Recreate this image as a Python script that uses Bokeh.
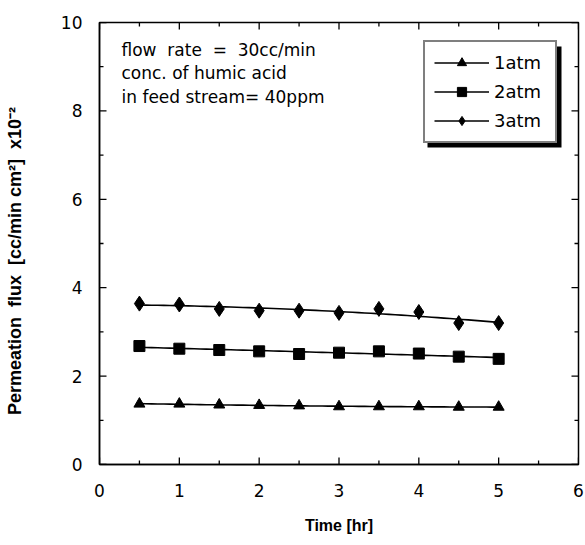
import numpy as np
from bokeh.plotting import figure
from bokeh.models import (SingleIntervalTicker, Range1d, Legend, LegendItem,
                          Label, BoxAnnotation)
from bokeh.embed import file_html
from bokeh.resources import INLINE

# ---- data ----
time_hr = [0.5, 1.0, 1.5, 2.0, 2.5, 3.0, 3.5, 4.0, 4.5, 5.0]
flux_1atm = [1.37, 1.37, 1.35, 1.34, 1.33, 1.31, 1.31, 1.31, 1.30, 1.30]
flux_2atm = [2.68, 2.62, 2.59, 2.56, 2.50, 2.53, 2.56, 2.51, 2.44, 2.39]
flux_3atm = [3.64, 3.62, 3.52, 3.48, 3.48, 3.43, 3.52, 3.45, 3.20, 3.20]
series_names = ["1atm", "2atm", "3atm"]
x_ticks = [0, 1, 2, 3, 4, 5, 6]
y_ticks = [0, 2, 4, 6, 8, 10]
NB = "\u00a0"
note_lines = ["flow" + NB * 2 + "rate" + NB * 2 + "=" + NB * 2 + "30cc/min",
              "conc. of humic acid",
              "in feed stream= 40ppm"]
x_title = "Time [hr]"
y_title = ("Permeation" + NB * 2 + "flux" + NB * 2 + "[cc/min" + NB + "cm²]" + NB * 2
           + "x10⁻²" + NB * 7)

FONT = "DejaVu Sans"
BFONT = "Liberation Sans"

X0, X1 = x_ticks[0], x_ticks[-1]
Y0, Y1 = y_ticks[0], y_ticks[-1]
FRAME_W, FRAME_H = 479, 442
px_x = FRAME_W / (X1 - X0)   # pixels per x unit
px_y = FRAME_H / (Y1 - Y0)   # pixels per y unit

p = figure(width=585, height=545, output_backend="svg", toolbar_location=None,
           x_range=Range1d(X0, X1), y_range=Range1d(Y0, Y1),
           min_border_left=99, min_border_right=7, min_border_top=22, min_border_bottom=81,
           x_axis_label=x_title, y_axis_label=y_title)
p.outline_line_color = "black"
p.outline_line_width = 1.5
p.grid.visible = False
p.background_fill_color = "white"
p.border_fill_color = "white"

for ax, tk in ((p.xaxis[0], SingleIntervalTicker(interval=1)),
               (p.yaxis[0], SingleIntervalTicker(interval=2))):
    ax.ticker = tk
    ax.axis_line_color = "black"
    ax.axis_line_width = 1.5
    ax.major_tick_in = 0
    ax.major_tick_out = 0
    ax.minor_tick_in = 0
    ax.minor_tick_out = 0
    ax.major_label_text_font = FONT
    ax.major_label_text_font_size = "17px"
    ax.major_label_text_color = "black"
    ax.axis_label_text_font = BFONT
    ax.axis_label_text_font_style = "bold"
    ax.axis_label_text_color = "black"
p.xaxis[0].major_label_standoff = 19
p.yaxis[0].major_label_standoff = 17
p.xaxis[0].axis_label_text_font_size = "16px"
p.xaxis[0].axis_label_standoff = 17
p.yaxis[0].axis_label_text_font_size = "18px"
p.yaxis[0].axis_label_standoff = 33

# ---- inward ticks on all four sides ----
x_major = list(x_ticks)
x_minor = [a + (b - a) / 2 for a, b in zip(x_ticks[:-1], x_ticks[1:])]
y_major = list(y_ticks)
y_minor = [a + (b - a) / 2 for a, b in zip(y_ticks[:-1], y_ticks[1:])]
MAJ, MIN = 7.0, 4.0
tk_kw = dict(line_color="black", line_width=1.3)
for xs, L in ((x_major, MAJ), (x_minor, MIN)):
    d = L / px_y
    p.segment(xs, [Y0] * len(xs), xs, [Y0 + d] * len(xs), **tk_kw)
    p.segment(xs, [Y1] * len(xs), xs, [Y1 - d] * len(xs), **tk_kw)
for ys, L in ((y_major, MAJ), (y_minor, MIN)):
    d = L / px_x
    p.segment([X0] * len(ys), ys, [X0 + d] * len(ys), ys, **tk_kw)
    p.segment([X1] * len(ys), ys, [X1 - d] * len(ys), ys, **tk_kw)

# ---- series ----
x = np.array(time_hr)
xx = np.linspace(min(time_hr), max(time_hr), 60)
markers = ["triangle", "square", "diamond"]
sizes = [11, 11, 15]
items = []
for name, ys, mk, sz in zip(series_names, [flux_1atm, flux_2atm, flux_3atm], markers, sizes):
    coef = np.polyfit(x, np.array(ys), 2)
    ln = p.line(xx, np.polyval(coef, xx), line_color="black", line_width=1.6)
    sc = p.scatter(time_hr, ys, marker=mk, size=sz, fill_color="black", line_color="black")
    items.append(LegendItem(label=name, renderers=[ln, sc]))

# ---- legend with drop shadow ----
LEG_L, LEG_T, LEG_W, LEG_H = 423, 42, 134, 101   # page pixels
SH = 4
frame_left, frame_top = 99, 22
def dx(px):
    return X0 + (px - frame_left) / px_x
def dy(py):
    return Y1 - (py - frame_top) / px_y
shadow = BoxAnnotation(left=dx(LEG_L + SH), right=dx(LEG_L + LEG_W + SH),
                       top=dy(LEG_T + SH), bottom=dy(LEG_T + LEG_H + SH),
                       fill_color="black", fill_alpha=1.0, line_color=None, level="overlay")
p.add_layout(shadow)

legend = Legend(items=items,
                location=(LEG_L - frame_left, frame_top + FRAME_H - (LEG_T + LEG_H)))
legend.label_text_font = FONT
legend.label_text_font_size = "18px"
legend.label_text_color = "black"
legend.glyph_width = 55
legend.glyph_height = 23
legend.label_standoff = 5
legend.label_width = 52
legend.spacing = 6
legend.padding = 9
legend.margin = 0
legend.border_line_color = "black"
legend.border_line_width = 2
legend.background_fill_color = "white"
legend.background_fill_alpha = 1.0
p.add_layout(legend, "center")

# ---- annotation text ----
for i, t in enumerate(note_lines):
    p.add_layout(Label(x=dx(121), y=dy(39) - i * (23.5 / px_y), text=t, text_font=FONT,
                       text_font_size="17px", text_color="black", text_baseline="top"))

open("out.html", "w").write(file_html(p, INLINE))
